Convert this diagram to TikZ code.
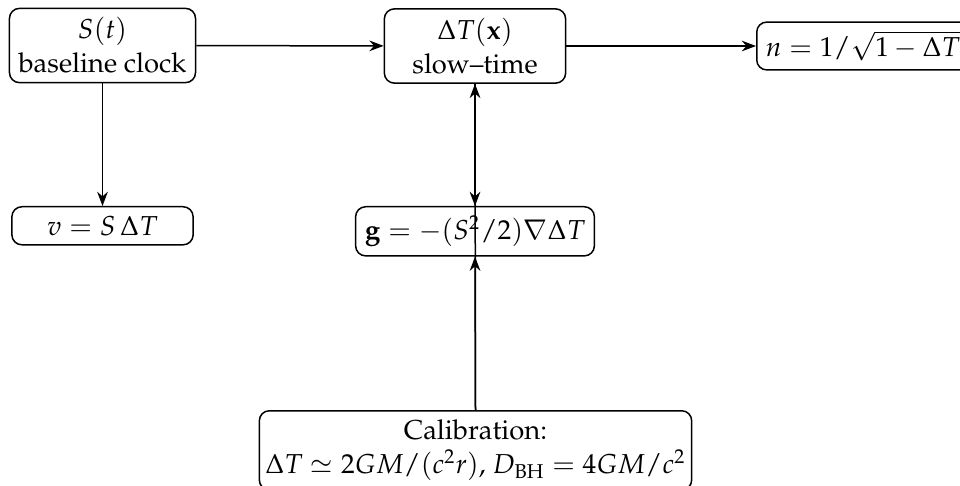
\documentclass[11pt,tikz,border=0pt]{standalone}
\usepackage[T1]{fontenc}
\usepackage{mathpazo}
\usetikzlibrary{arrows.meta}
\begin{document}
\begin{tikzpicture}[x=0.4pt,y=-0.4pt,semithick,
  box/.style={draw,rounded corners=4pt,align=center},
  wide/.style={box,minimum width=72.5pt},
  conn/.style={-{Stealth}}]
\useasboundingbox (0,0) rectangle (960,486);
\node[wide] (s) at (102.5,45.5) {$S(t)$\\baseline clock};
\node[wide] (dT) at (475,46) {$\Delta T(\mathbf{x})$\\slow--time};
\node[box,anchor=west] (n) at (756,46) {$n=1/\sqrt{1-\Delta T}$};
\node[wide,anchor=north] (v) at (102.5,206) {$v=S\,\Delta T$};
\node[box,anchor=north] (g) at (475,206) {$\mathbf{g}=-(S^2/2)\nabla\Delta T$};
\node[box,anchor=north,inner xsep=2.4pt] (cal) at (475.5,410) {Calibration:\\$\Delta T\simeq 2GM/(c^2r)$, $D_{\mathrm{BH}}=4GM/c^2$};
\draw[conn] (s) -- (dT);
\draw[conn] (dT) -- (n);
\draw[conn] (s) -- (v);
\draw[conn] (cal.north) -- (dT.south);
\draw[conn] (dT.south) -- (g.north);
\draw[conn] (cal.north) -- (g.south);
\end{tikzpicture}
\end{document}
